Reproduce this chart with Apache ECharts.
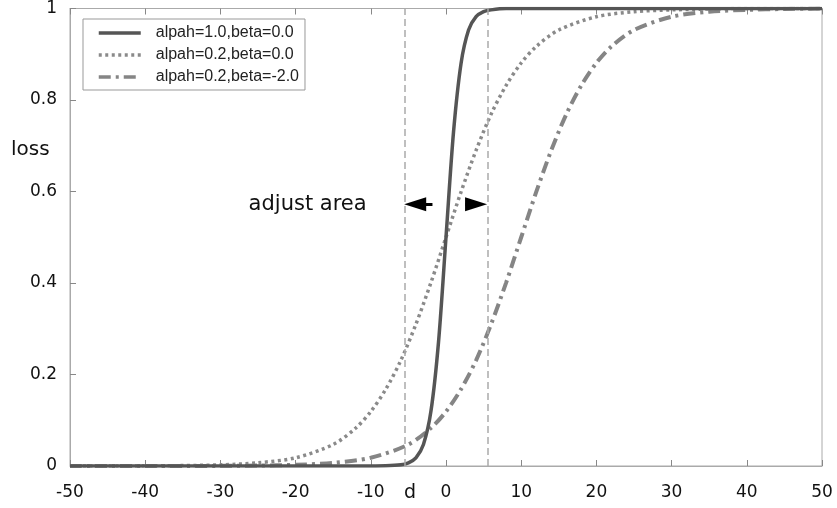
<!DOCTYPE html>
<html>
<head>
<meta charset="utf-8">
<script src="https://cdn.jsdelivr.net/npm/echarts@6/dist/echarts.min.js"></script>
<style>
  html, body { margin: 0; padding: 0; background: #fff; }
  #main { width: 837px; height: 508px; }
</style>
</head>
<body>
<div id="main"></div>
<script>
// values
var dSteep = [-50, -30, -15, -10, -8, -6, -5, -4, -3, -2, -1, 0, 1, 2, 3, 4, 5, 6, 8, 10, 20, 50];
var lossSteep = [0, 0, 0, 0, 0.0003, 0.0025, 0.007, 0.018, 0.047, 0.12, 0.27, 0.5, 0.73, 0.88, 0.953, 0.982, 0.993, 0.997, 1, 1, 1, 1];

var dWide = [-50, -45, -40, -35, -30, -25, -20, -15, -12, -10, -8, -6, -4, -2, 0, 2, 4, 6, 8, 10, 12, 15, 20, 25, 30, 35, 40, 45, 50];
var lossWide = [0, 0.0001, 0.0003, 0.0009, 0.0025, 0.007, 0.018, 0.047, 0.083, 0.119, 0.168, 0.231, 0.31, 0.401, 0.5, 0.599, 0.69, 0.769, 0.832, 0.881, 0.917, 0.953, 0.982, 0.993, 0.997, 0.999, 1, 1, 1];

var dShift = [-50, -40, -30, -25, -20, -15, -10, -5, -2, 0, 2, 4, 6, 8, 10, 12, 14, 16, 18, 20, 22, 25, 30, 35, 40, 45, 50];
var lossShift = [0, 0, 0.0003, 0.0009, 0.0025, 0.007, 0.018, 0.047, 0.083, 0.119, 0.168, 0.231, 0.31, 0.401, 0.5, 0.599, 0.69, 0.769, 0.832, 0.881, 0.917, 0.953, 0.982, 0.993, 0.997, 0.999, 1];

var seriesNames = ['alpah=1.0,beta=0.0', 'alpah=0.2,beta=0.0', 'alpah=0.2,beta=-2.0'];
var yTicks = [0, 0.2, 0.4, 0.6, 0.8, 1];
var areaBounds = [-5.5, 5.5];
// arrows: start and end (the triangle is centred on the end point)
var arrowLeft = [-1.8, -4.1];
var arrowRight = [2.6, 4.0];
var arrowY = 0.572;

function pairs(xs, ys) {
    return xs.map(function (x, i) { return [x, ys[i]]; });
}

var font = 'Liberation Sans, Arial, sans-serif';
var wideFont = 'DejaVu Sans, sans-serif';
var myChart = echarts.init(document.getElementById('main'));
var option = {
    animation: false,
    textStyle: { fontFamily: font },
    grid: {
        left: 70, right: 15, top: 8, bottom: 42,
        show: true, borderColor: '#aaa', borderWidth: 1
    },
    legend: {
        orient: 'vertical',
        left: 83, top: 19,
        padding: [6, 6, 5, 14],
        itemGap: 6,
        itemWidth: 42, itemHeight: 14,
        borderColor: '#999', borderWidth: 1,
        backgroundColor: '#fff',
        itemStyle: { opacity: 0 },
        lineStyle: { width: 3.5 },
        textStyle: { fontSize: 16, color: '#222', fontFamily: font, padding: [0, 0, 0, 10] },
        data: seriesNames
    },
    xAxis: [{
        type: 'value', min: -50, max: 50, interval: 10,
        axisLine: { show: true, onZero: false, lineStyle: { color: '#aaa' } },
        axisTick: { show: true, inside: true, length: 6, lineStyle: { color: '#888' } },
        axisLabel: { fontSize: 17, color: '#111', margin: 18, fontFamily: wideFont },
        splitLine: { show: false }
    }, {
        type: 'value', min: -50, max: 50, interval: 10, position: 'top',
        axisLine: { show: true, onZero: false, lineStyle: { color: '#aaa' } },
        axisTick: { show: true, inside: true, length: 6, lineStyle: { color: '#888' } },
        axisLabel: { show: false },
        splitLine: { show: false }
    }],
    yAxis: [{
        type: 'value', min: 0, max: 1, interval: 0.2,
        axisLine: { show: true, onZero: false, lineStyle: { color: '#aaa' } },
        axisTick: { show: true, inside: true, length: 6, lineStyle: { color: '#888' } },
        axisLabel: {
            fontSize: 17, color: '#111', margin: 13, fontFamily: wideFont,
            formatter: function (v) { return yTicks.indexOf(+v.toFixed(1)) >= 0 ? String(+v.toFixed(1)) : ''; }
        },
        splitLine: { show: false }
    }],
    graphic: [
        { type: 'text', left: 11, top: 140, style: { text: 'loss', fontSize: 20, fill: '#111', fontFamily: wideFont } },
        { type: 'text', left: 404, top: 484, style: { text: 'd', fontSize: 19, fill: '#111', fontFamily: wideFont } }
    ],
    series: [{
        name: seriesNames[0],
        type: 'line', smooth: 0.3, symbol: 'none',
        data: pairs(dSteep, lossSteep),
        lineStyle: { color: '#555', width: 3.5, type: 'solid' },
        itemStyle: { color: '#555' },
        z: 4,
        markLine: {
            silent: true, animation: false,
            symbol: 'none',
            label: { show: false },
            lineStyle: { color: '#aaa', width: 1.5, type: [7, 4] },
            data: [{ xAxis: areaBounds[0] }, { xAxis: areaBounds[1] }]
        }
    }, {
        name: seriesNames[1],
        type: 'line', smooth: 0.3, symbol: 'none',
        data: pairs(dWide, lossWide),
        lineStyle: { color: '#8a8a8a', width: 3.5, type: [3, 3.5] },
        itemStyle: { color: '#8a8a8a' },
        z: 3
    }, {
        name: seriesNames[2],
        type: 'line', smooth: 0.3, symbol: 'none',
        data: pairs(dShift, lossShift),
        lineStyle: { color: '#858585', width: 4, type: [12, 5, 3, 5] },
        itemStyle: { color: '#858585' },
        z: 2,
        markLine: {
            silent: true, animation: false,
            symbol: ['none', 'triangle'],
            symbolSize: [14, 22],
            label: { show: false },
            lineStyle: { color: '#000', width: 3, type: 'solid' },
            data: [
                [{ coord: [arrowLeft[0], arrowY] }, { coord: [arrowLeft[1], arrowY] }],
                [{ coord: [arrowRight[0], arrowY] }, { coord: [arrowRight[1], arrowY] }]
            ]
        },
        markPoint: {
            silent: true, animation: false,
            symbol: 'circle', symbolSize: 0,
            label: { show: true, formatter: 'adjust area', fontSize: 21, color: '#111', fontFamily: wideFont, position: 'inside' },
            data: [{ coord: [-18.4, arrowY] }]
        }
    }]
};
myChart.setOption(option);
</script>
</body>
</html>
